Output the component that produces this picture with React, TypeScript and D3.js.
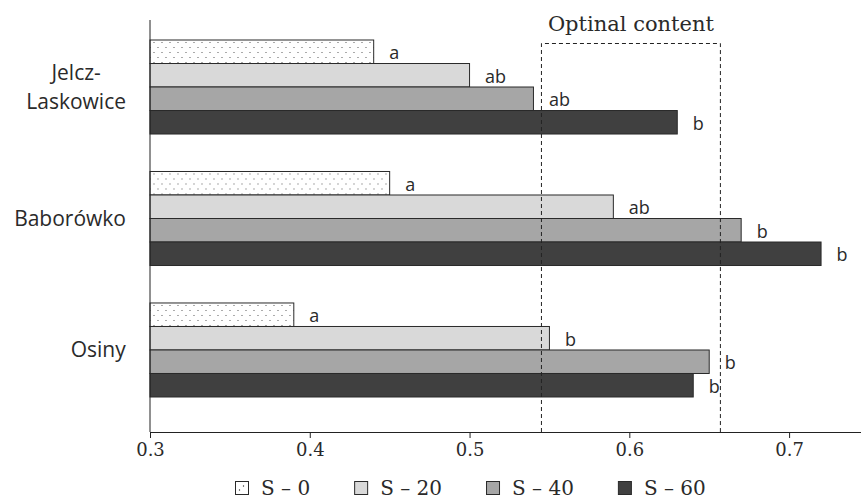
import React, { useEffect, useRef } from 'react';
import * as d3 from 'd3';

// sites (top to bottom) and sulphur doses
const sites = ['Jelcz-Laskowice', 'Baborówko', 'Osiny'];
const siteLines = [['Jelcz-', 'Laskowice'], ['Baborówko'], ['Osiny']];
const doses = ['S – 0', 'S – 20', 'S – 40', 'S – 60'];

// values per site, one per dose
const jelczValues = [0.44, 0.50, 0.54, 0.63];
const baborowkoValues = [0.45, 0.59, 0.67, 0.72];
const osinyValues = [0.39, 0.55, 0.65, 0.64];

// significance letters
const jelczLetters = ['a', 'ab', 'ab', 'b'];
const baborowkoLetters = ['a', 'ab', 'b', 'b'];
const osinyLetters = ['a', 'b', 'b', 'b'];

const xTicks = [0.3, 0.4, 0.5, 0.6, 0.7];
const optimalRange = [0.545, 0.657];
const optimalLabel = 'Optinal content';

const fills = ['url(#dots)', '#d9d9d9', '#a6a6a6', '#404040'];

const App = () => {
    const svgRef = useRef(null);

    useEffect(() => {
        const width = 861;
        const height = 500;
        const axisY = 432;
        const sans = '"Open Sans", sans-serif';
        const serif = '"DejaVu Serif", serif';

        const svg = d3.select(svgRef.current).attr('width', width).attr('height', height);
        svg.selectAll('*').remove();

        const defs = svg.append('defs');
        const pat = defs.append('pattern')
            .attr('id', 'dots')
            .attr('patternUnits', 'userSpaceOnUse')
            .attr('width', 8)
            .attr('height', 10);
        pat.append('rect').attr('width', 8).attr('height', 10).attr('fill', '#fff');
        pat.append('circle').attr('cx', 2).attr('cy', 2.5).attr('r', 0.6).attr('fill', '#444');
        pat.append('circle').attr('cx', 6).attr('cy', 7.5).attr('r', 0.6).attr('fill', '#444');

        const rows = [
            { site: sites[0], lines: siteLines[0], values: jelczValues, letters: jelczLetters },
            { site: sites[1], lines: siteLines[1], values: baborowkoValues, letters: baborowkoLetters },
            { site: sites[2], lines: siteLines[2], values: osinyValues, letters: osinyLetters },
        ];

        const x = d3.scaleLinear().domain([0.3, 0.745]).range([150, 861]);
        const y = d3.scaleBand().domain(sites).range([21, 416])
            .paddingInner(0.285).paddingOuter(0.1445);
        const yInner = d3.scaleBand().domain(doses).range([0, y.bandwidth()]);

        // optimal content box (dashed)
        const x0 = x(optimalRange[0]);
        const x1 = x(optimalRange[1]);
        const boxTop = 43.5;

        // bars
        const groups = svg.selectAll('g.site')
            .data(rows)
            .enter().append('g')
            .attr('class', 'site')
            .attr('transform', d => `translate(0,${y(d.site)})`);

        groups.selectAll('rect')
            .data(d => d.values.map((v, i) => ({ v, i, dose: doses[i] })))
            .enter().append('rect')
            .attr('x', x(0.3))
            .attr('y', d => yInner(d.dose))
            .attr('width', d => x(d.v) - x(0.3))
            .attr('height', yInner.bandwidth())
            .attr('fill', d => fills[d.i])
            .attr('stroke', '#2a2a2a')
            .attr('stroke-width', 1);

        groups.selectAll('text.letter')
            .data(d => d.letters.map((l, i) => ({ l, v: d.values[i], dose: doses[i] })))
            .enter().append('text')
            .attr('class', 'letter')
            .attr('x', d => x(d.v) + 15.5)
            .attr('y', d => yInner(d.dose) + yInner.bandwidth() / 2 + 7.5)
            .attr('font-family', sans)
            .attr('font-size', 18)
            .attr('fill', '#2a2a2a')
            .text(d => d.l);

        // category labels
        groups.each(function (d) {
            const g = d3.select(this);
            const lh = 29;
            const mid = y.bandwidth() / 2;
            const t = g.append('text')
                .attr('text-anchor', 'middle')
                .attr('font-family', sans)
                .attr('font-size', 21)
                .attr('fill', '#2a2a2a');
            d.lines.forEach((ln, k) => {
                t.append('tspan')
                    .attr('x', 0)
                    .attr('y', mid + 7.5 + (k - (d.lines.length - 1) / 2) * lh)
                    .text(ln);
            });
            // right-align the block, centred lines inside
            const w = t.node().getBBox().width;
            t.selectAll('tspan').attr('x', 126 - w / 2);
        });

        const dash = '4,3';
        svg.append('path')
            .attr('d', `M${x0},${axisY}V${boxTop}H${x1}V${axisY}`)
            .attr('fill', 'none')
            .attr('stroke', '#222')
            .attr('stroke-width', 1)
            .attr('stroke-dasharray', dash);

        svg.append('text')
            .attr('x', (x0 + x1) / 2)
            .attr('y', 31)
            .attr('text-anchor', 'middle')
            .attr('font-family', serif)
            .attr('font-size', 21)
            .attr('fill', '#2a2a2a')
            .text(optimalLabel);

        // axes
        svg.append('line')
            .attr('x1', 150).attr('x2', 150)
            .attr('y1', 20).attr('y2', axisY)
            .attr('stroke', '#222');

        const xAxis = d3.axisBottom(x)
            .tickValues(xTicks)
            .tickFormat(d3.format('.1f'))
            .tickSize(6)
            .tickSizeOuter(0)
            .tickPadding(5);

        const ax = svg.append('g')
            .attr('transform', `translate(0,${axisY})`)
            .call(xAxis);
        ax.select('.domain').attr('stroke', '#222');
        ax.selectAll('.tick line').attr('stroke', '#222');
        ax.selectAll('.tick text')
            .attr('font-family', serif)
            .attr('font-size', 18)
            .attr('fill', '#2a2a2a');

        // legend
        const legend = svg.append('g').attr('transform', 'translate(235,481)');
        let cx = 0;
        doses.forEach((dose, i) => {
            const item = legend.append('g').attr('transform', `translate(${cx},0)`);
            item.append('rect')
                .attr('x', 0.5).attr('y', 0.5)
                .attr('width', 13).attr('height', 13)
                .attr('fill', i === 0 ? '#fff' : fills[i])
                .attr('stroke', '#2a2a2a');
            if (i === 0) {
                item.append('circle').attr('cx', 4.5).attr('cy', 9).attr('r', 0.7).attr('fill', '#333');
                item.append('circle').attr('cx', 8.5).attr('cy', 5).attr('r', 0.7).attr('fill', '#333');
            }
            const t = item.append('text')
                .attr('x', 26)
                .attr('y', 14)
                .attr('font-family', serif)
                .attr('font-size', 20)
                .attr('fill', '#2a2a2a')
                .text(dose);
            cx += 26 + t.node().getComputedTextLength() + 44;
        });
    }, []);

    return (
        <svg ref={svgRef} style={{ position: 'absolute', left: 0, top: 0 }}></svg>
    );
};

export default App;
